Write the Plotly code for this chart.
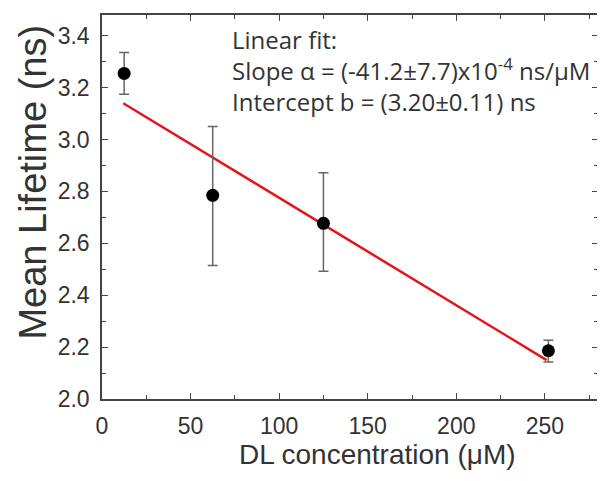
import plotly.graph_objects as go

# Data
conc = [12.5, 62.5, 125, 252]
lifetime = [3.255, 2.785, 2.677, 2.186]
err_plus = [0.08, 0.265, 0.195, 0.04]
err_minus = [0.08, 0.27, 0.185, 0.043]

fit_x = [12, 251]
fit_y = [3.14, 2.15]

x_ticks = [0, 50, 100, 150, 200, 250]
y_ticks = [2.0, 2.2, 2.4, 2.6, 2.8, 3.0, 3.2, 3.4]

fit_text = ("Linear fit:<br>"
            "Slope α = (-41.2±7.7)x10<sup>-4</sup> ns/μM<br>"
            "Intercept b = (3.20±0.11) ns")

fig = go.Figure()
fig.add_trace(go.Scatter(
    x=fit_x, y=fit_y, mode="lines",
    line=dict(color="#e3151c", width=2.5),
    showlegend=False, hoverinfo="skip"))
fig.add_trace(go.Scatter(
    x=conc, y=lifetime, mode="markers",
    marker=dict(color="black", size=13),
    error_y=dict(type="data", symmetric=False, array=err_plus, arrayminus=err_minus,
                 color="#666666", thickness=1.5, width=5),
    showlegend=False))

axis_common = dict(
    showline=True, linecolor="#444444", linewidth=1.5, mirror="allticks",
    ticks="inside", ticklen=6, tickwidth=1.2, tickcolor="#444444",
    showgrid=False, zeroline=False,
    tickfont=dict(family="Liberation Sans, Arial", size=23, color="#333333"),
)

fig.update_xaxes(range=[0, 280], tickvals=x_ticks, ticklabelstandoff=6,
                 minor=dict(dtick=25, ticks="inside", ticklen=4, tickcolor="#444444"),
                 **axis_common)
fig.update_yaxes(range=[2.0, 3.48], tickvals=y_ticks, tickformat=".1f", ticklabelstandoff=6,
                 minor=dict(dtick=0.1, ticks="inside", ticklen=4, tickcolor="#444444"),
                 **axis_common)

fig.add_annotation(text=fit_text, xref="paper", yref="paper", x=0.258, y=0.985,
                   xanchor="left", yanchor="top", align="left", showarrow=False,
                   font=dict(family="Open Sans", size=24, color="#333333"))
fig.add_annotation(text="DL concentration (μM)", xref="paper", yref="paper",
                   x=0.555, y=-0.145, xanchor="center", yanchor="middle", showarrow=False,
                   font=dict(family="Liberation Sans, Arial", size=28, color="#333333"))
fig.add_annotation(text="Mean Lifetime (ns)", xref="paper", yref="paper", textangle=-90,
                   x=-0.14, y=0.565, xanchor="center", yanchor="middle", showarrow=False,
                   font=dict(family="Liberation Sans, Arial", size=38, color="#333333"))

# page body has an 8px margin, so the figure is 8px smaller than the window
fig.update_layout(width=597, height=473, margin=dict(l=94, r=5, t=6, b=82),
                  paper_bgcolor="white", plot_bgcolor="white")
fig.write_html("out.html")
